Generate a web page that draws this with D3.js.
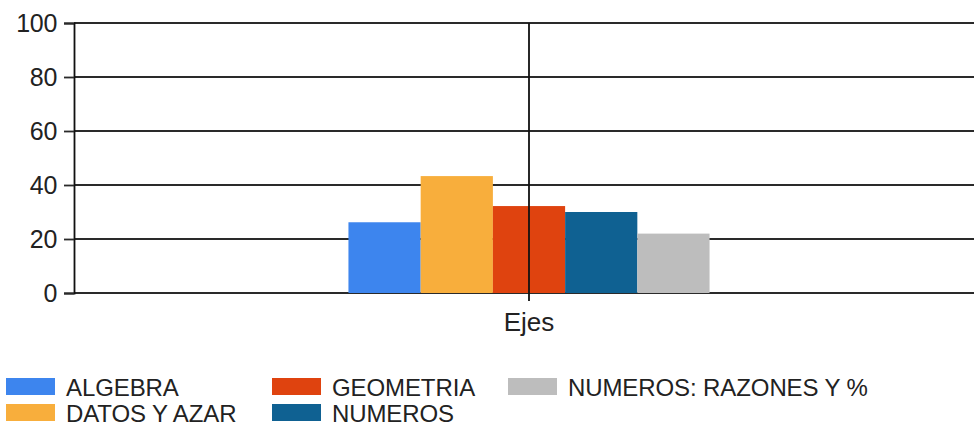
<!DOCTYPE html>
<html>
<head>
<meta charset="utf-8">
<script src="https://cdn.jsdelivr.net/npm/d3@7/dist/d3.min.js"></script>
<style>
  html, body { margin: 0; padding: 0; background: #fff; }
  svg { display: block; }
  text { font-family: "Liberation Sans", Arial, sans-serif; fill: #222; }
</style>
</head>
<body>
<svg id="chart" width="974" height="428"></svg>
<script>
const categories = ["Ejes"];
const seriesNames = ["ALGEBRA", "DATOS Y AZAR", "GEOMETRIA", "NUMEROS", "NUMEROS: RAZONES Y %"];
const seriesValues = [26.2, 43.3, 32.2, 30.0, 22.0];
const seriesColors = ["#3d85ee", "#f8ae3c", "#df430f", "#0f6192", "#bdbdbd"];
const yTicks = [0, 20, 40, 60, 80, 100];

(function () {
const W = 974;
const svg = d3.select("#chart");
const mLeft = 74, mTop = 23, mBottom = 293, plotRight = 984;

const y = d3.scaleLinear().domain([0, 100]).range([mBottom, mTop]);
const x = d3.scaleBand().domain(categories).range([mLeft, plotRight]).paddingInner(0).paddingOuter(0.76);
const xs = d3.scaleBand().domain(seriesNames).range([0, x.bandwidth()]).padding(0);

// horizontal gridlines
svg.append("g").selectAll("line").data(yTicks).join("line")
  .attr("x1", mLeft).attr("x2", W)
  .attr("y1", d => y(d)).attr("y2", d => y(d))
  .attr("stroke", "#2a2a2a").attr("stroke-width", 1.8);

// y axis
const yAxis = d3.axisLeft(y).tickValues(yTicks).tickSize(10).tickPadding(7);
const gy = svg.append("g").attr("transform", `translate(${mLeft},0)`).call(yAxis);
gy.select(".domain").attr("stroke", "#111").attr("stroke-width", 1.8);
gy.selectAll(".tick line").attr("stroke", "#2a2a2a").attr("stroke-width", 1.8);
gy.selectAll(".tick text").style("font-size", "25px").style("letter-spacing", "-0.3px")
  .attr("fill", "#222").attr("font-family", "Liberation Sans, Arial, sans-serif");

// bars
const grp = svg.append("g").selectAll("g").data(categories).join("g")
  .attr("transform", d => `translate(${x(d)},0)`);
grp.selectAll("rect").data(() => seriesNames.map((n, i) => ({ n, v: seriesValues[i], c: seriesColors[i] })))
  .join("rect")
  .attr("x", d => xs(d.n)).attr("width", xs.bandwidth())
  .attr("y", d => y(d.v)).attr("height", d => y(0) - y(d.v))
  .attr("fill", d => d.c);

// category divider line + x axis
svg.append("g").selectAll("line").data(categories).join("line")
  .attr("x1", d => x(d) + x.bandwidth() / 2).attr("x2", d => x(d) + x.bandwidth() / 2)
  .attr("y1", y(100)).attr("y2", y(0))
  .attr("stroke", "#111").attr("stroke-width", 1.8);
const xAxis = d3.axisBottom(x).tickSize(8).tickPadding(12);
const gx = svg.append("g").attr("transform", `translate(0,${mBottom})`).call(xAxis);
gx.select(".domain").remove();
gx.selectAll(".tick line").attr("stroke", "#111").attr("stroke-width", 1.8);
gx.selectAll(".tick text").style("font-size", "26px").style("letter-spacing", "0px")
  .attr("fill", "#222").attr("font-family", "Liberation Sans, Arial, sans-serif");

// legend
const legendPos = [[6, 378], [6, 404], [272, 378], [272, 404], [508, 378]];
const lg = svg.append("g").selectAll("g").data(seriesNames).join("g")
  .attr("transform", (d, i) => `translate(${legendPos[i][0]},${legendPos[i][1]})`);
lg.append("rect").attr("width", 49).attr("height", 17).attr("fill", (d, i) => seriesColors[i]);
lg.append("text").attr("x", 60).attr("y", 17.5).text(d => d)
  .style("font-size", "24px").style("letter-spacing", "-0.1px");
})();
</script>
</body>
</html>
